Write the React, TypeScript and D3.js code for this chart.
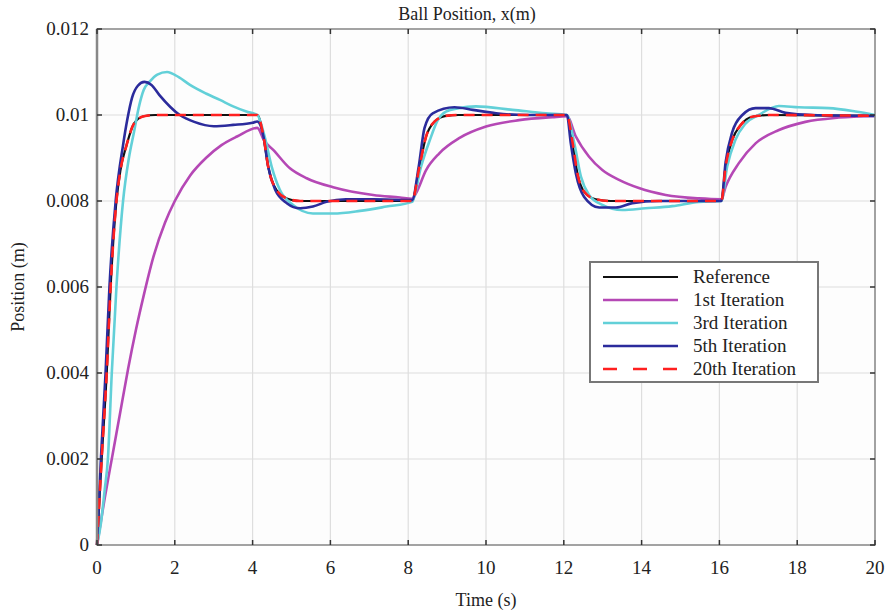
import React, { useEffect, useRef } from "react";
import * as d3 from "d3";

const title = "Ball Position, x(m)";
const xLabel = "Time (s)";
const yLabel = "Position (m)";
const xTicks = [0, 2, 4, 6, 8, 10, 12, 14, 16, 18, 20];
const yTicks = [0, 0.002, 0.004, 0.006, 0.008, 0.01, 0.012];
const yTickLabels = ["0", "0.002", "0.004", "0.006", "0.008", "0.01", "0.012"];

const referenceData: [number, number][] = [
  [0, 0], [0.12, 0.002], [0.25, 0.004], [0.35, 0.006], [0.5, 0.008], [0.6, 0.0087], [0.76, 0.0093], [0.95, 0.0098], [1.2, 0.00997], [1.5, 0.01],
  [4.12, 0.01], [4.28, 0.0095], [4.4, 0.0088], [4.61, 0.00826], [4.88, 0.00806], [5.22, 0.008],
  [8.1, 0.008], [8.29, 0.0088], [8.46, 0.0095], [8.67, 0.00984], [8.97, 0.00998], [9.3, 0.01],
  [12.08, 0.01], [12.23, 0.00934], [12.35, 0.00864], [12.52, 0.00822], [12.82, 0.00804], [13.2, 0.008],
  [16.05, 0.008], [16.16, 0.0088], [16.33, 0.00942], [16.55, 0.00977], [16.85, 0.00996], [17.3, 0.01], [20, 0.00998],
];

const iter1Data: [number, number][] = [
  [0, 0], [0.2, 0.0011], [0.4, 0.0021], [0.6, 0.0031], [0.8, 0.0041], [1.0, 0.005], [1.2, 0.0058], [1.45, 0.0067], [1.75, 0.0075], [2.0, 0.008], [2.4, 0.0086], [2.8, 0.009], [3.2, 0.0093], [3.6, 0.0095], [4.12, 0.0097],
  [4.3, 0.0094], [4.53, 0.00919], [4.96, 0.00876], [5.39, 0.00853], [6.07, 0.00832], [7.1, 0.00814], [7.79, 0.00808], [8.1, 0.00805],
  [8.2, 0.00818], [8.46, 0.00872], [8.8, 0.00911], [9.31, 0.00946], [10.0, 0.00973], [10.85, 0.00988], [11.71, 0.00995], [12.08, 0.00997],
  [12.31, 0.0095], [12.65, 0.00903], [12.99, 0.00872], [13.42, 0.00849], [13.93, 0.0083], [14.62, 0.00814], [15.47, 0.00806], [16.05, 0.00804],
  [16.16, 0.00833], [16.5, 0.00888], [16.93, 0.00934], [17.53, 0.00965], [18.21, 0.00984], [19.07, 0.00994], [20, 0.00998],
];

const iter3Data: [number, number][] = [
  [0, 0], [0.1, 0.0005], [0.2, 0.0013], [0.28, 0.002], [0.38, 0.004], [0.5, 0.006], [0.67, 0.008], [0.82, 0.009], [0.95, 0.0096], [1.08, 0.0102], [1.2, 0.01058], [1.36, 0.01078], [1.55, 0.01094], [1.8, 0.011], [2.1, 0.01088], [2.39, 0.0107], [2.8, 0.0105], [3.16, 0.01035], [3.5, 0.0102], [3.84, 0.01008], [4.12, 0.01],
  [4.31, 0.0095], [4.49, 0.0088], [4.7, 0.00826], [5.04, 0.00791], [5.55, 0.00771], [6.07, 0.00771], [6.76, 0.00777], [7.44, 0.00787], [8.1, 0.00798],
  [8.33, 0.0088], [8.55, 0.0094], [8.76, 0.00988], [8.97, 0.01008], [9.3, 0.01016], [9.74, 0.0102], [10.68, 0.01012], [11.54, 0.01004], [12.08, 0.01],
  [12.27, 0.00934], [12.44, 0.00857], [12.65, 0.00814], [12.99, 0.00791], [13.5, 0.00779], [14.1, 0.00783], [14.79, 0.00788], [15.47, 0.00798], [16.05, 0.008],
  [16.2, 0.0088], [16.41, 0.00942], [16.67, 0.0098], [17.01, 0.01], [17.53, 0.01021], [18.04, 0.01018], [18.81, 0.01016], [19.5, 0.01008], [20, 0.01],
];

const iter5Data: [number, number][] = [
  [0, 0], [0.1, 0.002], [0.22, 0.004], [0.32, 0.006], [0.48, 0.008], [0.67, 0.0093], [0.78, 0.0099], [0.9, 0.0104], [1.05, 0.01068], [1.22, 0.01077], [1.4, 0.0107], [1.6, 0.01047], [2.13, 0.01], [2.5, 0.00984], [3.0, 0.00974], [3.5, 0.00977], [4.0, 0.00982], [4.12, 0.00985],
  [4.28, 0.0095], [4.4, 0.0088], [4.58, 0.00826], [4.88, 0.00795], [5.22, 0.00783], [5.55, 0.00787], [5.9, 0.00798], [6.4, 0.00804], [7.1, 0.00804], [8.1, 0.00802],
  [8.27, 0.0088], [8.42, 0.0097], [8.63, 0.01004], [9.19, 0.01018], [9.66, 0.01012], [10.26, 0.01004], [11.1, 0.01], [12.08, 0.01],
  [12.18, 0.00934], [12.31, 0.00864], [12.52, 0.0081], [12.91, 0.00785], [13.34, 0.00785], [13.76, 0.00795], [14.45, 0.008], [16.05, 0.008],
  [16.16, 0.0089], [16.33, 0.0096], [16.59, 0.01], [16.93, 0.01016], [17.27, 0.01016], [17.7, 0.01005], [18.38, 0.01], [20, 0.00998],
];

const iter20Data: [number, number][] = [
  [0, 0], [0.12, 0.002], [0.25, 0.004], [0.35, 0.006], [0.5, 0.008], [0.6, 0.0087], [0.76, 0.0093], [0.95, 0.0098], [1.2, 0.00997], [1.5, 0.01],
  [4.12, 0.01], [4.28, 0.0095], [4.4, 0.0088], [4.61, 0.00826], [4.88, 0.00806], [5.22, 0.008],
  [8.1, 0.008], [8.29, 0.0088], [8.46, 0.0095], [8.67, 0.00984], [8.97, 0.00998], [9.3, 0.01],
  [12.08, 0.01], [12.23, 0.00934], [12.35, 0.00864], [12.52, 0.00822], [12.82, 0.00804], [13.2, 0.008],
  [16.05, 0.008], [16.16, 0.0088], [16.33, 0.00942], [16.55, 0.00977], [16.85, 0.00996], [17.3, 0.01], [20, 0.00998],
];

const seriesNames = ["Reference", "1st Iteration", "3rd Iteration", "5th Iteration", "20th Iteration"];
const seriesColors = ["#111111", "#b548b5", "#62d0d8", "#2b2b9c", "#ff2020"];

const W = 889, H = 611;
const M = { left: 97, right: 14, top: 29, bottom: 66 };
const FONT = "'Liberation Serif', 'Times New Roman', serif";

export default function App() {
  const ref = useRef<SVGSVGElement>(null);
  useEffect(() => {
    const svg = d3.select(ref.current);
    svg.selectAll("*").remove();
    const x = d3.scaleLinear().domain([0, 20]).range([M.left, W - M.right]);
    const y = d3.scaleLinear().domain([0, 0.012]).range([H - M.bottom, M.top]);
    const x0 = x(0), x1 = x(20), y0 = y(0), y1 = y(0.012);

    svg.append("rect").attr("width", W).attr("height", H).attr("fill", "#fff");
    svg.append("rect").attr("x", x0).attr("y", y1).attr("width", x1 - x0).attr("height", y0 - y1).attr("fill", "#fdfdfd");

    const grid = svg.append("g").attr("stroke", "#dedede").attr("stroke-width", 1.2);
    xTicks.forEach((t) => grid.append("line").attr("x1", x(t)).attr("x2", x(t)).attr("y1", y1).attr("y2", y0));
    yTicks.forEach((t) => grid.append("line").attr("x1", x0).attr("x2", x1).attr("y1", y(t)).attr("y2", y(t)));

    const datasets = [referenceData, iter1Data, iter3Data, iter5Data, iter20Data];
    const line = d3.line<[number, number]>().x((d) => x(d[0])).y((d) => y(d[1])).curve(d3.curveMonotoneX);
    const plot = svg.append("g");
    datasets.forEach((data, i) => {
      plot.append("path").attr("d", line(data)).attr("fill", "none").attr("stroke", seriesColors[i])
        .attr("stroke-width", i === 0 ? 2.2 : 2.6)
        .attr("stroke-dasharray", i === 4 ? "11,7" : null)
        .attr("stroke-linejoin", "round");
    });

    // frame
    svg.append("rect").attr("x", x0).attr("y", y1).attr("width", x1 - x0).attr("height", y0 - y1)
      .attr("fill", "none").attr("stroke", "#8a8a8a").attr("stroke-width", 1.5);
    svg.append("line").attr("x1", x0).attr("x2", x0).attr("y1", y1).attr("y2", y0).attr("stroke", "#888").attr("stroke-width", 2.5);

    const ticks = svg.append("g").attr("stroke", "#333").attr("stroke-width", 1.5);
    xTicks.forEach((t) => {
      ticks.append("line").attr("x1", x(t)).attr("x2", x(t)).attr("y1", y0).attr("y2", y0 - 5);
      ticks.append("line").attr("x1", x(t)).attr("x2", x(t)).attr("y1", y1).attr("y2", y1 + 5);
    });
    yTicks.forEach((t) => {
      ticks.append("line").attr("x1", x0).attr("x2", x0 + 5).attr("y1", y(t)).attr("y2", y(t));
      ticks.append("line").attr("x1", x1).attr("x2", x1 - 5).attr("y1", y(t)).attr("y2", y(t));
    });

    const txt = svg.append("g").attr("font-family", FONT).attr("fill", "#222");
    xTicks.forEach((t) => txt.append("text").attr("x", x(t)).attr("y", y0 + 29).attr("text-anchor", "middle").attr("font-size", 19).text(String(t)));
    yTicks.forEach((t, i) => txt.append("text").attr("x", x0 - 8).attr("y", y(t) + 6).attr("text-anchor", "end").attr("font-size", 19).text(yTickLabels[i]));
    txt.append("text").attr("x", 467).attr("y", 20).attr("text-anchor", "middle").attr("font-size", 18).text(title);
    txt.append("text").attr("x", (x0 + x1) / 2).attr("y", 606).attr("text-anchor", "middle").attr("font-size", 18).text(xLabel);
    txt.append("text").attr("transform", `translate(24,${(y0 + y1) / 2}) rotate(-90)`).attr("text-anchor", "middle").attr("font-size", 18).text(yLabel);

    // legend
    const lg = svg.append("g");
    lg.append("rect").attr("x", 590).attr("y", 262).attr("width", 228).attr("height", 120).attr("fill", "#fff").attr("stroke", "#777").attr("stroke-width", 2);
    seriesNames.forEach((name, i) => {
      const ly = 277 + i * 23;
      lg.append("line").attr("x1", 603).attr("x2", 678).attr("y1", ly).attr("y2", ly).attr("stroke", seriesColors[i])
        .attr("stroke-width", i === 0 ? 2.2 : 2.6).attr("stroke-dasharray", i === 4 ? "14,16" : null);
      lg.append("text").attr("x", 693).attr("y", ly + 6).attr("font-family", FONT).attr("font-size", 19).attr("fill", "#222").text(name);
    });
  }, []);
  return <svg ref={ref} width={W} height={H} style={{ position: "absolute", left: 0, top: 0 }} />;
}
